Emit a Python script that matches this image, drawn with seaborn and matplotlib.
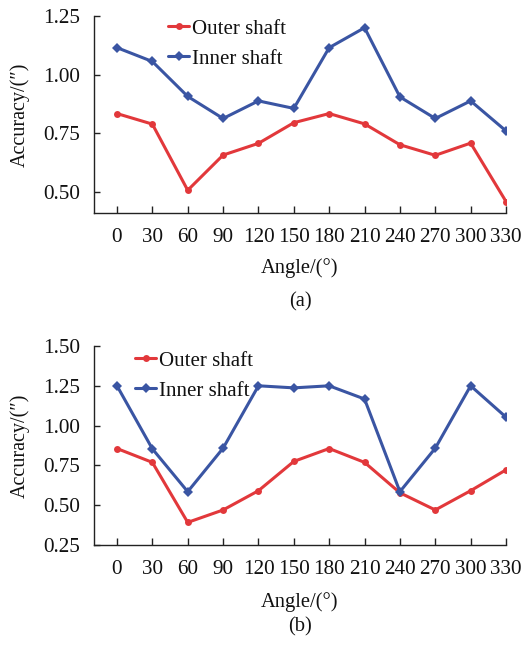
import matplotlib
matplotlib.use("Agg")
import matplotlib.pyplot as plt
import seaborn as sns
import pandas as pd

sns.set_theme(style="white")
plt.rcParams['font.family'] = ['Liberation Serif', 'DejaVu Serif']
plt.rcParams['mathtext.fontset'] = 'stix'

angles = ["0", "30", "60", "90", "120", "150", "180", "210", "240", "270", "300", "330"]
outer_a = [0.834, 0.789, 0.507, 0.657, 0.707, 0.795, 0.834, 0.790, 0.701, 0.656, 0.708, 0.459]
inner_a = [1.115, 1.056, 0.907, 0.813, 0.888, 0.856, 1.115, 1.200, 0.905, 0.813, 0.888, 0.760]
outer_b = [0.856, 0.769, 0.392, 0.470, 0.591, 0.775, 0.856, 0.769, 0.578, 0.470, 0.591, 0.722]
inner_b = [1.250, 0.854, 0.585, 0.858, 1.250, 1.237, 1.250, 1.167, 0.585, 0.858, 1.250, 1.053]
series_names = ["Outer shaft", "Inner shaft"]
yticks_a = [0.50, 0.75, 1.00, 1.25]
yticks_b = [0.25, 0.50, 0.75, 1.00, 1.25, 1.50]

RED = "#E2383B"
BLUE = "#3A55A3"
W, H = 527, 648
FS = 15.2
fig = plt.figure(figsize=(W / 100, H / 100), dpi=100)


def px_axes(left, top, right, bottom):
    return fig.add_axes([left / W, 1 - bottom / H, (right - left) / W, (bottom - top) / H])


def panel(ax, outer, inner, yticks, ylim, leg_anchor, angle_y, lab_y, lab):
    df = pd.DataFrame({
        "idx": list(range(len(angles))) * 2,
        "val": outer + inner,
        "series": [series_names[0]] * len(angles) + [series_names[1]] * len(angles),
    })
    sns.lineplot(data=df, x="idx", y="val", hue="series", style="series",
                 palette={series_names[0]: RED, series_names[1]: BLUE},
                 markers={series_names[0]: "o", series_names[1]: "D"},
                 dashes=False, linewidth=2.2, markersize=5, markeredgewidth=0,
                 ax=ax)
    ax.set_xlim(-0.65, 11.0)
    ax.set_ylim(*ylim)
    ax.set_xticks(range(len(angles)))
    ax.set_xticklabels(angles)
    ax.set_yticks(yticks)
    ax.set_yticklabels([f"{v:.2f}" for v in yticks])
    for s in ["top", "right"]:
        ax.spines[s].set_visible(False)
    for s in ["left", "bottom"]:
        ax.spines[s].set_color("#222222")
        ax.spines[s].set_linewidth(1.0)
    ax.tick_params(axis="x", bottom=True, direction="in", length=5, width=1, color="#222222",
                   pad=11, labelsize=FS, labelcolor="#111111")
    ax.tick_params(axis="y", left=True, direction="in", length=4, width=1, color="#222222",
                   pad=10, labelsize=FS, labelcolor="#111111")
    ax.set_xlabel("")
    ax.set_ylabel("Accuracy/(″)", fontsize=14.5, color="#111111")
    ax.yaxis.set_label_coords(-0.155, 0.5)
    leg = ax.legend(loc="upper left", bbox_to_anchor=leg_anchor, frameon=False,
                    fontsize=15, handlelength=1.0, handletextpad=0.15,
                    labelspacing=0.5, borderpad=0, borderaxespad=0)
    for t in leg.get_texts():
        t.set_color("#111111")
    fig.text(300 / W, 1 - angle_y / H, "Angle/(°)", ha="center", va="center",
             fontsize=14.8, color="#111111")
    fig.text(300 / W, 1 - lab_y / H, lab, ha="center", va="center",
             fontsize=14.8, color="#111111")


ax1 = px_axes(94, 16, 506, 213)
panel(ax1, outer_a, inner_a, yticks_a, (0.41, 1.25), (0.18, 0.985), 268, 302, "(a)")
ax2 = px_axes(94, 346, 506, 545)
panel(ax2, outer_b, inner_b, yticks_b, (0.25, 1.50), (0.10, 0.975), 602, 627, "(b)")

fig.savefig("out.png", dpi=100, facecolor="white")
